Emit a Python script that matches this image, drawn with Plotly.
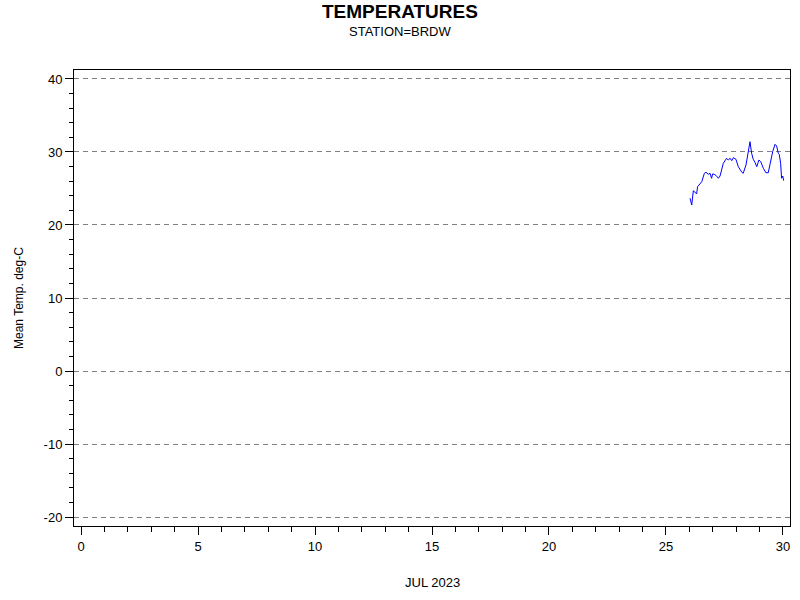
import plotly.graph_objects as go

# ==========================================================
# Data (day of July 2023, mean temperature in deg-C)
# ==========================================================

day = [
    26.03, 26.10, 26.17, 26.27, 26.31, 26.35, 26.45, 26.53, 26.64, 26.71,
    26.81, 26.88, 26.95, 26.99, 27.06, 27.15, 27.24, 27.31, 27.45, 27.59,
    27.66, 27.74, 27.81, 27.88, 27.99, 28.09, 28.24, 28.30, 28.42, 28.52,
    28.59, 28.66, 28.73, 28.80, 28.88, 28.97, 29.05, 29.16, 29.27, 29.37,
    29.47, 29.56, 29.66, 29.73, 29.80, 29.84, 29.90, 29.94, 29.99, 30.03,
]
temp = [
    23.66, 22.74, 24.70, 24.34, 24.25, 25.25, 25.71, 25.93, 27.08, 27.22,
    26.95, 27.08, 26.40, 26.99, 26.95, 26.75, 26.40, 26.71, 28.45, 29.14,
    28.90, 29.14, 28.81, 29.22, 29.00, 27.99, 27.22, 27.08, 28.22, 30.04,
    31.41, 29.82, 29.00, 28.60, 27.99, 28.90, 28.67, 27.77, 27.16, 27.16,
    28.67, 30.04, 31.05, 30.82, 29.82, 29.68, 28.45, 26.40, 26.71, 26.07,
]

x_ticks = [0, 5, 10, 15, 20, 25, 30]
y_ticks = [-20, -10, 0, 10, 20, 30, 40]
y_labels = ["-20", "-10", "0", "10", "20", "30", "40"]

# ==========================================================
# Geometry (body margin is removed, so page px == figure px)
# ==========================================================

W, H = 800, 600
L, R, T, B = 74, 10, 70, 74
plot_w = W - L - R
plot_h = H - T - B


def px_x(px):
    return (px - L) / plot_w


def px_y(py):
    return (H - B - py) / plot_h


def label(text, x, y, size, angle=0):
    return dict(text=text, x=x, y=y, xref="paper", yref="paper",
                xanchor="center", yanchor="middle", showarrow=False,
                textangle=angle, font=dict(size=size))


# ==========================================================
# Figure
# ==========================================================

fig = go.Figure(
    go.Scatter(
        x=day,
        y=temp,
        mode="lines",
        line=dict(color="#0000ff", width=1),
        showlegend=False,
    )
)

font = "Liberation Sans, Arial, sans-serif"

fig.update_layout(
    width=W,
    height=H,
    margin=dict(l=L, r=R, t=T, b=B),
    paper_bgcolor="white",
    plot_bgcolor="white",
    font=dict(family=font, size=13, color="black"),
    annotations=[
        label("<b>TEMPERATURES</b>", px_x(400), px_y(11), 19),
        label("STATION=BRDW", px_x(400), px_y(31), 13),
        label("JUL 2023", 0.5, px_y(582), 13),
        label("Mean Temp. deg-C", px_x(19), 0.5, 12, -90),
    ],
)

fig.update_xaxes(
    range=[-0.3, 30.3],
    tickvals=x_ticks,
    ticks="outside",
    ticklen=8,
    tickcolor="black",
    showline=True,
    linecolor="black",
    linewidth=1,
    mirror=True,
    showgrid=False,
    zeroline=False,
    minor=dict(dtick=1, ticks="outside", ticklen=5, tickcolor="black"),
)
fig.update_yaxes(
    range=[-21.23, 41.23],
    tickvals=y_ticks,
    ticktext=y_labels,
    ticks="outside",
    ticklen=8,
    tickcolor="black",
    showline=True,
    linecolor="black",
    linewidth=1,
    mirror=True,
    showgrid=True,
    gridcolor="#808080",
    griddash="5px,4px",
    gridwidth=1,
    zeroline=False,
    minor=dict(dtick=2, ticks="outside", ticklen=4, tickcolor="black", showgrid=False),
)

fig.write_html(
    "out.html",
    config={"displayModeBar": False},
    post_script="document.body.style.margin='0';",
)
